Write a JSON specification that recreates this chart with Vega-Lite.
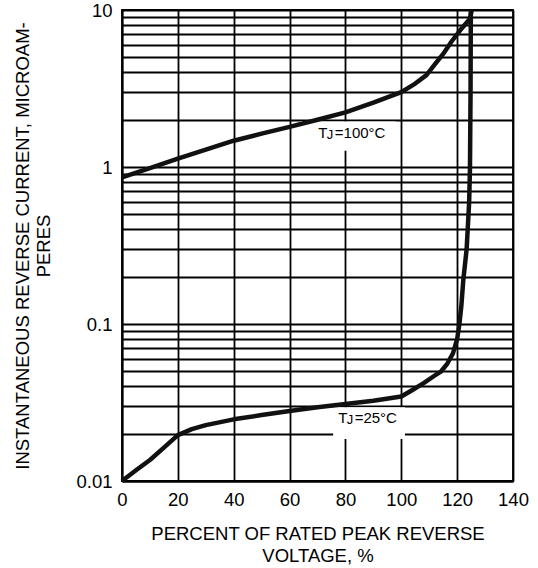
{
  "$schema": "https://vega.github.io/schema/vega-lite/v6.json",
  "width": 391,
  "height": 471,
  "autosize": "none",
  "padding": {"left": 122, "top": 10, "right": 25, "bottom": 87},
  "background": "white",
  "config": {
    "view": {"stroke": "black", "strokeWidth": 1.8},
    "font": "Liberation Sans",
    "axis": {
      "labelFont": "Liberation Sans",
      "titleFont": "Liberation Sans",
      "labelFontSize": 18.5,
      "titleFontSize": 18.5,
      "titleFontWeight": "normal",
      "labelColor": "black",
      "titleColor": "black",
      "gridColor": "black",
      "gridWidth": 1.8,
      "gridOpacity": 1,
      "domainColor": "black",
      "domainWidth": 1.8,
      "ticks": false,
      "tickSize": 0,
      "titleLineHeight": 21.5
    }
  },
  "datasets": {
    "curves": [
      {"series": "100C", "x": 0, "y": 0.86},
      {"series": "100C", "x": 10, "y": 0.985},
      {"series": "100C", "x": 20, "y": 1.13},
      {"series": "100C", "x": 30, "y": 1.29},
      {"series": "100C", "x": 40, "y": 1.47},
      {"series": "100C", "x": 50, "y": 1.63},
      {"series": "100C", "x": 60, "y": 1.8},
      {"series": "100C", "x": 70, "y": 2.0},
      {"series": "100C", "x": 80, "y": 2.23},
      {"series": "100C", "x": 90, "y": 2.57},
      {"series": "100C", "x": 100, "y": 3.0},
      {"series": "100C", "x": 105, "y": 3.4},
      {"series": "100C", "x": 109, "y": 3.85},
      {"series": "100C", "x": 112, "y": 4.5},
      {"series": "100C", "x": 115, "y": 5.25},
      {"series": "100C", "x": 118, "y": 6.3},
      {"series": "100C", "x": 121, "y": 7.4},
      {"series": "100C", "x": 124.6, "y": 8.8},
      {"series": "100C", "x": 125.2, "y": 10},
      {"series": "25C", "x": 0, "y": 0.01},
      {"series": "25C", "x": 5, "y": 0.0117},
      {"series": "25C", "x": 10, "y": 0.0136},
      {"series": "25C", "x": 15, "y": 0.0163},
      {"series": "25C", "x": 20, "y": 0.0196},
      {"series": "25C", "x": 25, "y": 0.0214},
      {"series": "25C", "x": 30, "y": 0.0227},
      {"series": "25C", "x": 40, "y": 0.0247},
      {"series": "25C", "x": 50, "y": 0.0263},
      {"series": "25C", "x": 60, "y": 0.0279},
      {"series": "25C", "x": 70, "y": 0.0295},
      {"series": "25C", "x": 80, "y": 0.0309},
      {"series": "25C", "x": 90, "y": 0.0324},
      {"series": "25C", "x": 100, "y": 0.0345},
      {"series": "25C", "x": 104, "y": 0.038},
      {"series": "25C", "x": 108, "y": 0.042},
      {"series": "25C", "x": 112, "y": 0.047},
      {"series": "25C", "x": 114.3, "y": 0.05},
      {"series": "25C", "x": 116.5, "y": 0.056},
      {"series": "25C", "x": 118.5, "y": 0.065},
      {"series": "25C", "x": 120, "y": 0.08},
      {"series": "25C", "x": 120.8, "y": 0.1},
      {"series": "25C", "x": 121.5, "y": 0.13},
      {"series": "25C", "x": 122.2, "y": 0.19},
      {"series": "25C", "x": 123.4, "y": 0.3},
      {"series": "25C", "x": 124.3, "y": 0.6},
      {"series": "25C", "x": 124.6, "y": 1.0},
      {"series": "25C", "x": 124.8, "y": 3},
      {"series": "25C", "x": 124.9, "y": 10}
    ],
    "boxes": [
      {"x": 63.7, "x2": 98, "y": 1.27, "y2": 1.95},
      {"x": 75.6, "x2": 101.3, "y": 0.0185, "y2": 0.0295}
    ],
    "labels": [
      {"x": 70.3, "y": 1.535, "t": "T", "j": "J", "rest": "=100°C"},
      {"x": 77.4, "y": 0.0233, "t": "T", "j": "J", "rest": "=25°C"}
    ]
  },
  "encoding": {
    "x": {
      "field": "x",
      "type": "quantitative",
      "scale": {"domain": [0, 140], "nice": false, "zero": false},
      "axis": {
        "title": ["PERCENT OF RATED PEAK REVERSE", "VOLTAGE, %"],
        "values": [0, 20, 40, 60, 80, 100, 120, 140],
        "labelFlush": false,
        "labelPadding": 9,
        "titlePadding": 16,
        "labelOverlap": false
      }
    },
    "y": {
      "field": "y",
      "type": "quantitative",
      "scale": {"type": "log", "domain": [0.01, 10], "nice": false},
      "axis": {
        "title": ["INSTANTANEOUS REVERSE CURRENT, MICROAM-", "PERES"],
        "values": [0.01, 0.02, 0.03, 0.04, 0.05, 0.06, 0.07, 0.08, 0.09, 0.1, 0.2, 0.3, 0.4, 0.5, 0.6, 0.7, 0.8, 0.9, 1, 2, 3, 4, 5, 6, 7, 8, 9, 10],
        "format": "~g",
        "labelExpr": "datum.value == 0.01 || datum.value == 0.1 || datum.value == 1 || datum.value == 10 ? datum.label : ''",
        "labelOverlap": false,
        "labelFlush": false,
        "labelBaseline": "middle",
        "labelPadding": 10,
        "titlePadding": 22
      }
    }
  },
  "layer": [
    {
      "data": {"name": "boxes"},
      "mark": {"type": "rect", "fill": "white", "stroke": null},
      "encoding": {
        "x2": {"field": "x2"},
        "y2": {"field": "y2"}
      }
    },
    {
      "data": {"name": "curves"},
      "mark": {"type": "line", "color": "#111", "strokeWidth": 4.5, "strokeJoin": "round", "strokeCap": "butt", "clip": false},
      "encoding": {
        "detail": {"field": "series", "type": "nominal"}
      }
    },
    {
      "data": {"name": "labels"},
      "mark": {"type": "text", "align": "left", "baseline": "alphabetic", "fontSize": 15, "font": "Liberation Sans", "color": "black"},
      "encoding": {"text": {"field": "t"}}
    },
    {
      "data": {"name": "labels"},
      "mark": {"type": "text", "align": "left", "baseline": "alphabetic", "fontSize": 13, "font": "Liberation Sans", "color": "black", "dx": 8.5, "dy": 1},
      "encoding": {"text": {"field": "j"}}
    },
    {
      "data": {"name": "labels"},
      "mark": {"type": "text", "align": "left", "baseline": "alphabetic", "fontSize": 15, "font": "Liberation Sans", "color": "black", "dx": 16.5},
      "encoding": {"text": {"field": "rest"}}
    }
  ]
}
